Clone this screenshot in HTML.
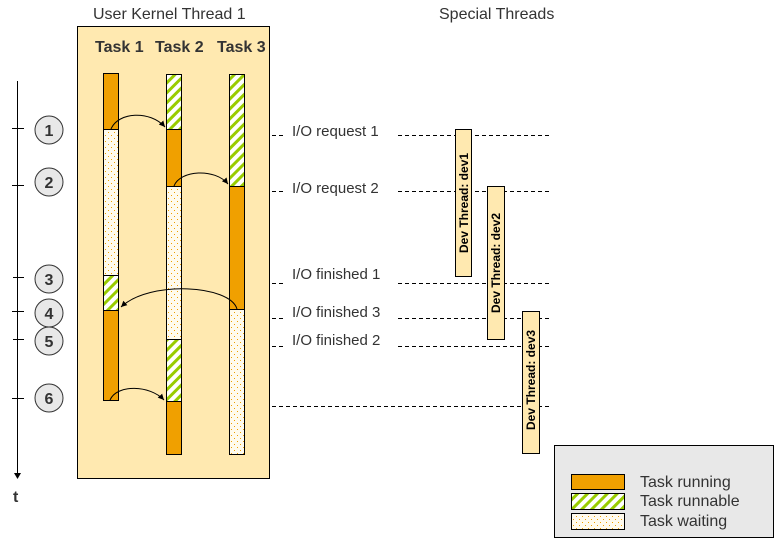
<!DOCTYPE html>
<html><head><meta charset="utf-8"><style>
html,body{margin:0;padding:0;background:#fff;}
svg{display:block;}
text{font-family:"Liberation Sans",Arial,sans-serif;fill:#333;}
</style></head><body>
<svg width="780" height="540" viewBox="0 0 780 540" xmlns="http://www.w3.org/2000/svg">
<defs>
<pattern id="hatch" patternUnits="userSpaceOnUse" width="7" height="7" patternTransform="rotate(45)">
<rect width="7" height="7" fill="#fff"/><rect width="3" height="7" fill="#99cc00"/>
</pattern>
<pattern id="dots" patternUnits="userSpaceOnUse" width="6" height="6">
<rect width="6" height="6" fill="#fffbee"/>
<rect x="0" y="0" width="1" height="1" fill="#f0a000"/>
<rect x="3" y="3" width="1" height="1" fill="#f0a000"/>
</pattern>
<marker id="ah" markerWidth="8" markerHeight="8" refX="6" refY="3" orient="auto" markerUnits="userSpaceOnUse"><path d="M0,0 L6,3 L0,6z" fill="#000"/></marker>
</defs>

<text x="93" y="19" font-size="16">User Kernel Thread 1</text>
<text x="439" y="19" font-size="16">Special Threads</text>

<rect x="77.5" y="26.5" width="192" height="452" fill="#ffe9b0" stroke="#000"/>
<text x="95" y="52" font-size="16" font-weight="bold">Task 1</text>
<text x="155" y="52" font-size="16" font-weight="bold">Task 2</text>
<text x="217" y="52" font-size="16" font-weight="bold">Task 3</text>

<!-- Task 1 -->
<g stroke="#000" stroke-width="1">
<rect x="103.5" y="73.5" width="15" height="56" fill="#f0a000"/>
<rect x="103.5" y="129.5" width="15" height="146" fill="url(#dots)"/>
<rect x="103.5" y="275.5" width="15" height="35" fill="url(#hatch)"/>
<rect x="103.5" y="310.5" width="15" height="90" fill="#f0a000"/>
<!-- Task 2 -->
<rect x="166.5" y="74.5" width="15" height="55" fill="url(#hatch)"/>
<rect x="166.5" y="129.5" width="15" height="57" fill="#f0a000"/>
<rect x="166.5" y="186.5" width="15" height="153" fill="url(#dots)"/>
<rect x="166.5" y="339.5" width="15" height="62" fill="url(#hatch)"/>
<rect x="166.5" y="401.5" width="15" height="53" fill="#f0a000"/>
<!-- Task 3 -->
<rect x="229.5" y="74.5" width="15" height="112" fill="url(#hatch)"/>
<rect x="229.5" y="186.5" width="15" height="123" fill="#f0a000"/>
<rect x="229.5" y="309.5" width="15" height="145" fill="url(#dots)"/>
</g>

<!-- arcs -->
<g fill="none" stroke="#000" stroke-width="1">
<path d="M111,129 C118,112 150,110 165,127" marker-end="url(#ah)"/>
<path d="M174,186 C180,170 215,168 228,184" marker-end="url(#ah)"/>
<path d="M237,309 C230,285 150,280 121,307" marker-end="url(#ah)"/>
<path d="M110,400 C117,384 150,385 164,400" marker-end="url(#ah)"/>
</g>

<!-- time axis -->
<line x1="17.5" y1="81" x2="17.5" y2="474" stroke="#000"/>
<path d="M14,473 L21,473 L17.5,479z" fill="#000"/>
<text x="13" y="502" font-size="16" font-weight="bold">t</text>
<g stroke="#000">
<line x1="12" y1="128.5" x2="24" y2="128.5"/>
<line x1="12" y1="185.5" x2="24" y2="185.5"/>
<line x1="13" y1="277.5" x2="24" y2="277.5"/>
<line x1="12" y1="311.5" x2="24" y2="311.5"/>
<line x1="13" y1="339.5" x2="24" y2="339.5"/>
<line x1="12" y1="398.5" x2="24" y2="398.5"/>
</g>
<g fill="#e8e8e8" stroke="#333" stroke-width="1">
<circle cx="49" cy="130" r="14"/>
<circle cx="49" cy="182" r="14"/>
<circle cx="49" cy="279" r="14"/>
<circle cx="49" cy="313" r="14"/>
<circle cx="49" cy="341" r="14"/>
<circle cx="49" cy="398" r="14"/>
</g>
<g font-size="16" font-weight="bold" text-anchor="middle">
<text x="49" y="136">1</text>
<text x="49" y="188">2</text>
<text x="49" y="285">3</text>
<text x="49" y="319">4</text>
<text x="49" y="347">5</text>
<text x="49" y="404">6</text>
</g>

<!-- dashed lines -->
<g stroke="#000" stroke-dasharray="4,3" fill="none">
<line x1="272" y1="135.5" x2="286" y2="135.5"/><line x1="398" y1="135.5" x2="550" y2="135.5"/>
<line x1="272" y1="191.5" x2="286" y2="191.5"/><line x1="398" y1="191.5" x2="550" y2="191.5"/>
<line x1="272" y1="283.5" x2="286" y2="283.5"/><line x1="398" y1="283.5" x2="550" y2="283.5"/>
<line x1="272" y1="318.5" x2="286" y2="318.5"/><line x1="398" y1="318.5" x2="550" y2="318.5"/>
<line x1="272" y1="346.5" x2="286" y2="346.5"/><line x1="398" y1="346.5" x2="550" y2="346.5"/>
<line x1="272" y1="406.5" x2="550" y2="406.5"/>
</g>
<g font-size="15">
<text x="292" y="136">I/O request 1</text>
<text x="292" y="193">I/O request 2</text>
<text x="292" y="279">I/O finished 1</text>
<text x="292" y="317">I/O finished 3</text>
<text x="292" y="345">I/O finished 2</text>
</g>

<!-- dev threads -->
<g fill="#ffe9b0" stroke="#000">
<rect x="455.5" y="129.5" width="16" height="147"/>
<rect x="487.5" y="186.5" width="17" height="153"/>
<rect x="522.5" y="311.5" width="17" height="142"/>
</g>
<g font-size="12" font-weight="bold" fill="#000">
<text transform="translate(468,253) rotate(-90)" style="fill:#000">Dev Thread: dev1</text>
<text transform="translate(500,313) rotate(-90)" style="fill:#000">Dev Thread: dev2</text>
<text transform="translate(535,430) rotate(-90)" style="fill:#000">Dev Thread: dev3</text>
</g>

<!-- legend -->
<rect x="554.5" y="445.5" width="219" height="92" fill="#e8e8e8" stroke="#000"/>
<g stroke="#000">
<rect x="571.5" y="474.5" width="53" height="15" fill="#f0a000"/>
<rect x="571.5" y="493.5" width="53" height="16" fill="url(#hatch)"/>
<rect x="571.5" y="513.5" width="53" height="16" fill="url(#dots)"/>
</g>
<g font-size="16">
<text x="640" y="487">Task running</text>
<text x="640" y="506">Task runnable</text>
<text x="640" y="526">Task waiting</text>
</g>
</svg>
</body></html>
